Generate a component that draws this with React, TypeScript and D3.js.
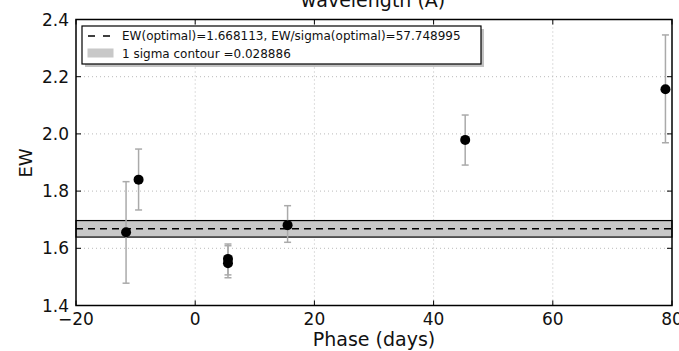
import React from "react";
import * as d3 from "d3";

const phase = [-11.6, -9.5, 5.5, 5.5, 15.5, 45.3, 78.9];
const ew = [1.656, 1.84, 1.563, 1.548, 1.681, 1.979, 2.156];
const ewLow = [1.478, 1.734, 1.507, 1.497, 1.621, 1.891, 1.969];
const ewHigh = [1.833, 1.947, 1.615, 1.609, 1.749, 2.066, 2.346];
const xTicks = [-20, 0, 20, 40, 60, 80];
const yTicks = [1.4, 1.6, 1.8, 2.0, 2.2, 2.4];
const ewOptimal = 1.668113;
const sigma = 0.028886;
const legendLabels = [
  "EW(optimal)=1.668113, EW/sigma(optimal)=57.748995",
  "1 sigma contour =0.028886",
];

const W = 679;
const H = 351;
const L = 76, R = 672, T = 19.5, B = 305.5;

export default function App() {
  const x = d3.scaleLinear().domain([-20, 80]).range([L, R]);
  const y = d3.scaleLinear().domain([1.4, 2.4]).range([B, T]);
  const font = "'DejaVu Sans', sans-serif";
  const fmtX = (v: number) => (v < 0 ? "\u2212" + Math.abs(v) : String(v));
  const line = d3.line<[number, number]>().x((d) => d[0]).y((d) => d[1]);

  return (
    <svg
      width={W}
      height={H}
      style={{ position: "absolute", left: 0, top: 0, background: "#fff" }}
      fontFamily={font}
    >
      <rect x={0} y={0} width={W} height={H} fill="#fff" />
      {/* title (partially cut) */}
      <text x={373} y={7} textAnchor="middle" fontSize={19} fill="#111">
        wavelength (Å)
      </text>
      {/* grid */}
      {xTicks.slice(1, -1).map((t) => (
        <line key={"gx" + t} x1={x(t)} x2={x(t)} y1={T} y2={B} stroke="#bbb" strokeWidth={1} strokeDasharray="1,3" />
      ))}
      {yTicks.slice(1, -1).map((t) => (
        <line key={"gy" + t} x1={L} x2={R} y1={y(t)} y2={y(t)} stroke="#bbb" strokeWidth={1} strokeDasharray="1,3" />
      ))}
      {/* sigma band */}
      <rect
        x={L}
        y={y(ewOptimal + sigma)}
        width={R - L}
        height={y(ewOptimal - sigma) - y(ewOptimal + sigma)}
        fill="#c8c8c8"
        stroke="#000"
        strokeWidth={1.2}
      />
      <line x1={L} x2={R} y1={y(ewOptimal)} y2={y(ewOptimal)} stroke="#000" strokeWidth={1.5} strokeDasharray="7,5" />
      {/* error bars */}
      {phase.map((p, i) => (
        <g key={"e" + i} stroke="#aaa" strokeWidth={1.5}>
          <path d={line([[x(p), y(ewLow[i])], [x(p), y(ewHigh[i])]]) || ""} />
          <path d={line([[x(p) - 3.5, y(ewLow[i])], [x(p) + 3.5, y(ewLow[i])]]) || ""} />
          <path d={line([[x(p) - 3.5, y(ewHigh[i])], [x(p) + 3.5, y(ewHigh[i])]]) || ""} />
        </g>
      ))}
      {phase.map((p, i) => (
        <circle key={"p" + i} cx={x(p)} cy={y(ew[i])} r={5} fill="#000" />
      ))}
      {/* ticks inward */}
      {xTicks.map((t) => (
        <g key={"tx" + t} stroke="#000" strokeWidth={1}>
          <line x1={x(t)} x2={x(t)} y1={B} y2={B - 5} />
          <line x1={x(t)} x2={x(t)} y1={T} y2={T + 5} />
        </g>
      ))}
      {yTicks.map((t) => (
        <g key={"ty" + t} stroke="#000" strokeWidth={1}>
          <line x1={L} x2={L + 5} y1={y(t)} y2={y(t)} />
          <line x1={R} x2={R - 5} y1={y(t)} y2={y(t)} />
        </g>
      ))}
      {/* frame */}
      <rect x={L} y={T} width={R - L} height={B - T} fill="none" stroke="#000" strokeWidth={1.5} />
      {/* tick labels */}
      {xTicks.map((t) => (
        <text key={"lx" + t} x={x(t)} y={325} textAnchor="middle" fontSize={17} fill="#111">
          {fmtX(t)}
        </text>
      ))}
      {yTicks.map((t) => (
        <text key={"ly" + t} x={69} y={y(t) + 6} textAnchor="end" fontSize={17} fill="#111">
          {t.toFixed(1)}
        </text>
      ))}
      {/* axis labels */}
      <text x={374} y={346} textAnchor="middle" fontSize={19} fill="#111">
        Phase (days)
      </text>
      <text transform="translate(32,163) rotate(-90)" textAnchor="middle" fontSize={18} fill="#111">
        EW
      </text>
      {/* legend */}
      <rect x={85} y={29} width={399} height={38} fill="#999" opacity={0.6} />
      <rect x={82} y={26} width={399} height={38} fill="#fff" stroke="#000" strokeWidth={1.2} />
      <line x1={88} x2={112} y1={36} y2={36} stroke="#000" strokeWidth={1.5} strokeDasharray="7,8" />
      <text x={122} y={40} fontSize={12} fill="#111">
        {legendLabels[0]}
      </text>
      <rect x={87.5} y={48.5} width={26} height={9} fill="#c8c8c8" />
      <text x={122} y={57.5} fontSize={12} fill="#111">
        {legendLabels[1]}
      </text>
    </svg>
  );
}
